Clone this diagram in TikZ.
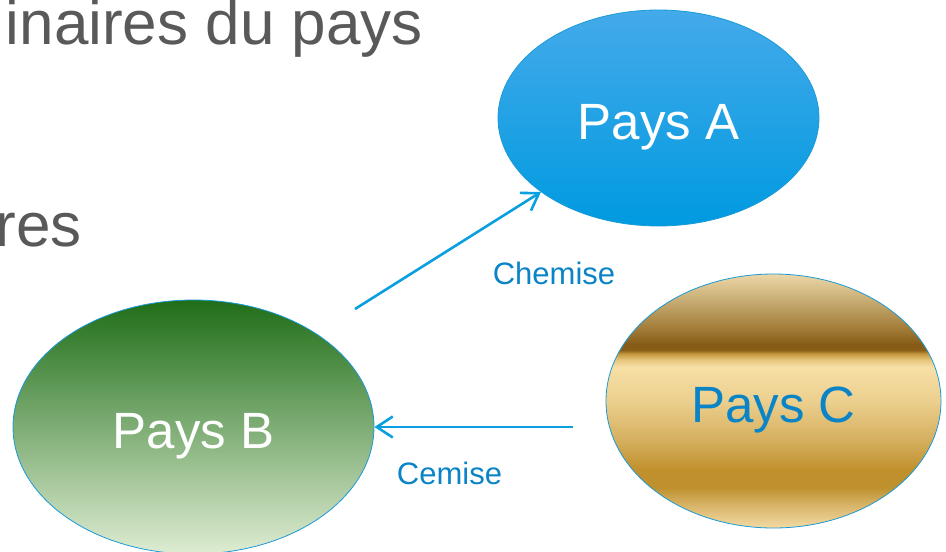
\documentclass[tikz,border=0pt]{standalone}
\usepackage{fontspec}
\setmainfont{Liberation Sans}
\usepackage{xcolor}
\usepackage{tikz}
\usetikzlibrary{arrows.meta,shapes.geometric}

\definecolor{rimblue}{HTML}{1A9AD6}
\definecolor{arrowblue}{HTML}{0AA0E0}
\definecolor{labelblue}{HTML}{0A84C6}
\definecolor{slidegray}{HTML}{595959}
\definecolor{aTop}{HTML}{44AAEA}
\definecolor{aMid}{HTML}{0AA3E8}
\definecolor{aBot}{HTML}{009AE0}
\definecolor{bTop}{HTML}{1F6E18}
\definecolor{bMid}{HTML}{93B86E}
\definecolor{bBot}{HTML}{DEECD2}
\definecolor{gA}{HTML}{F2DBA5}
\definecolor{gB}{HTML}{D8B468}
\definecolor{gC}{HTML}{BE912E}
\definecolor{gD}{HTML}{C0902C}
\definecolor{gE}{HTML}{D6B060}
\definecolor{gF}{HTML}{ECD08F}
\definecolor{gG}{HTML}{F7DFA6}
\definecolor{gH}{HTML}{E8C880}
\definecolor{gI}{HTML}{C89A40}
\definecolor{gJ}{HTML}{8A6018}
\definecolor{gK}{HTML}{855A16}
\definecolor{gL}{HTML}{A07A35}
\definecolor{gM}{HTML}{C8AD74}
\definecolor{gN}{HTML}{ECD7A8}

\pgfdeclareverticalshading{goldband}{100bp}{color(0bp)=(gA); color(25bp)=(gA);
  color(29.5bp)=(gB); color(33bp)=(gC); color(36.5bp)=(gD); color(42.5bp)=(gE);
  color(50.2bp)=(gF); color(56.7bp)=(gG); color(58bp)=(gH); color(59.25bp)=(gI);
  color(60bp)=(gJ); color(61bp)=(gK); color(64bp)=(gL); color(69.9bp)=(gM);
  color(75bp)=(gN); color(100bp)=(gN)}

\begin{document}
\begin{tikzpicture}[x=1pt, y=-1pt]
\tikzstyle{country}=[ellipse, draw=rimblue, line width=0.8pt, inner sep=0pt,
  text height=42pt, text depth=0pt, font=\fontsize{51}{60}\selectfont]
\tikzstyle{flow}=[draw=arrowblue, line width=2.6pt, -{Straight Barb[length=16pt, width=21pt]}]
\tikzstyle{goods}=[text=labelblue, inner sep=0pt, font=\fontsize{31}{36}\selectfont]
\tikzstyle{slide}=[text=slidegray, inner sep=0pt, anchor=base east, font=\fontsize{62}{72}\selectfont]
\useasboundingbox (0,0) rectangle (946,552);
\clip (0,0) rectangle (946,552);

\node[slide] (t1) at (423,44) {inaires du pays};
\node[slide] (t2) at (82,246) {res};

\node[country, top color=aTop, middle color=aMid, bottom color=aBot,
  minimum width=321pt, minimum height=216pt, text=white] (pa) at (658.5,118) {Pays A};
\node[country, top color=bTop, middle color=bMid, bottom color=bBot,
  minimum width=361pt, minimum height=254pt, text=white] (pb) at (193.5,427) {Pays B};
\node[country, shading=goldband, minimum width=335pt, minimum height=254pt,
  text=labelblue] (pc) at (773.5,401) {Pays C};

\coordinate (s1) at (355,309);
\coordinate (s2) at (573,427);

\path (s1) edge[flow] (pa)
      (s2) edge[flow] (pb);

\node[goods] (l1) at (554,273) {Chemise};
\node[goods] (l2) at (449.5,473) {Cemise};

\end{tikzpicture}
\end{document}
